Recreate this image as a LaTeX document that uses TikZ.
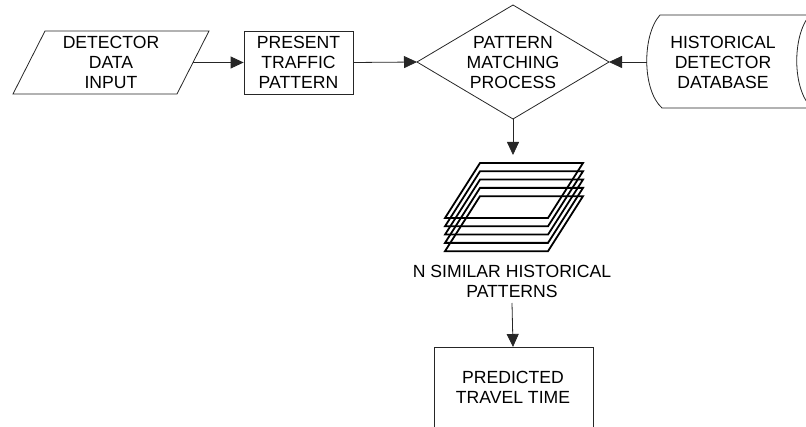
\documentclass[tikz,border=0pt]{standalone}
\usepackage{fontspec}
\setmainfont{Liberation Sans}
\usetikzlibrary{arrows.meta}
\begin{document}
\begin{tikzpicture}[x=1pt,y=-1pt,
  txt/.style={align=center,inner sep=0pt,font=\fontsize{17.6}{20}\selectfont},
  shp/.style={draw=black!85,line width=0.8pt},
  conn/.style={draw=black!85,line width=0.8pt,-{Triangle[length=13pt,width=12pt]}},
  stk/.style={draw=black,line width=1.8pt,line join=miter}]
\useasboundingbox (0,0) rectangle (806,427);
\clip (0,0) rectangle (806,427);
% detector data input (parallelogram)
\draw[shp] (45,31) -- (209,31) -- (177,94) -- (13,94) -- cycle;
\node[txt] (inp) at (111,62.5) {DETECTOR\\DATA\\INPUT};
\coordinate (inpE) at (193,62.5);
% present traffic pattern
\node[shp,txt,minimum width=109pt,minimum height=63pt] (pres) at (298.5,62.5) {PRESENT\\TRAFFIC\\PATTERN};
% diamond
\draw[shp] (417,62) -- (513,5) -- (609,62) -- (513,119) -- cycle;
\coordinate (diaW) at (417,62);
\coordinate (diaE) at (609,62);
\coordinate (diaS) at (513,119);
\node[txt] (pm) at (513,62.5) {PATTERN\\MATCHING\\PROCESS};
% database
\draw[shp] (660,15) -- (810,15) .. controls (792,35) and (792,90) .. (812,108)
  -- (662,108) .. controls (642,90) and (642,35) .. (660,15) -- cycle;
\coordinate (dbW) at (647,62);
\node[txt] (db) at (723,62.5) {HISTORICAL\\DETECTOR\\DATABASE};
% stack of patterns
\foreach \i in {0,...,4}{
  \draw[stk] (480,163+8.3*\i) -- (583,163+8.3*\i) -- (548,218+8.3*\i) -- (445,218+8.3*\i) -- cycle;
}
\coordinate (stkN) at (513,155);
\node[txt] (nsim) at (512,281) {N SIMILAR HISTORICAL\\PATTERNS};
\coordinate (nsimS) at (512,303);
% predicted travel time
\draw[shp] (434,347) rectangle (593,445);
\coordinate (predN) at (513,347);
\node[txt] (pred) at (513,387) {PREDICTED\\TRAVEL TIME};
% connectors
\draw[conn] (inpE) -- (pres.west);
\draw[conn] (pres.east) -- (diaW);
\draw[conn] (dbW) -- (diaE);
\draw[conn] (diaS) -- (stkN);
\draw[conn] (nsimS) -- (predN);
\end{tikzpicture}
\end{document}
